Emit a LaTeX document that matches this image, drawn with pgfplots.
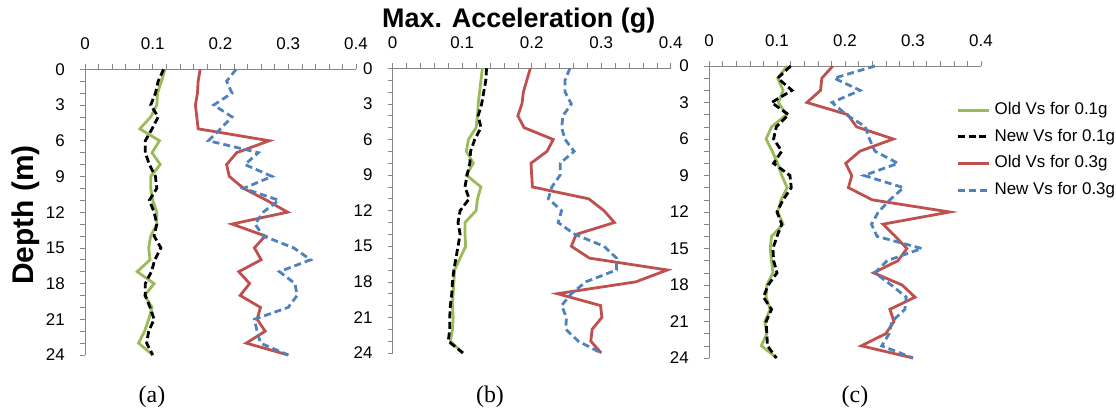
\documentclass[border=0pt]{standalone}
\usepackage{pgfplots}
\pgfplotsset{compat=1.18}
\usepackage{pgfplotstable}
\usepackage{fontspec}
\setmainfont{Liberation Sans}
\newfontfamily\serifcap{Liberation Serif}
\definecolor{cgreen}{HTML}{9BBB59}
\definecolor{cred}{HTML}{C0504D}
\definecolor{cblue}{HTML}{4F81BD}
\definecolor{axgray}{HTML}{868686}

\pgfplotstableread{
d o1 n1 o3 n3
0 0.118 0.116 0.170 0.223
1 0.113 0.108 0.167 0.209
2 0.107 0.104 0.166 0.217
3 0.106 0.097 0.163 0.190
4 0.097 0.108 0.165 0.217
5 0.081 0.099 0.167 0.200
6 0.110 0.089 0.272 0.182
7 0.099 0.089 0.224 0.256
8 0.111 0.095 0.209 0.236
9 0.097 0.104 0.213 0.276
10 0.097 0.106 0.234 0.234
11 0.100 0.095 0.268 0.286
12 0.106 0.102 0.299 0.263
13 0.106 0.106 0.217 0.251
14 0.097 0.102 0.266 0.263
15 0.094 0.112 0.250 0.308
16 0.096 0.103 0.260 0.333
17 0.077 0.098 0.227 0.287
18 0.102 0.089 0.243 0.310
19 0.088 0.089 0.229 0.313
20 0.099 0.096 0.259 0.300
21 0.094 0.102 0.254 0.250
22 0.088 0.094 0.266 0.254
23 0.079 0.091 0.238 0.259
24 0.100 0.100 0.300 0.300
}\tabA

\pgfplotstableread{
d o1 n1 o3 n3
0 0.129 0.135 0.198 0.255
1 0.127 0.134 0.193 0.248
2 0.125 0.131 0.188 0.248
3 0.123 0.128 0.186 0.257
4 0.122 0.123 0.180 0.245
5 0.120 0.127 0.189 0.243
6 0.109 0.118 0.231 0.248
7 0.106 0.112 0.222 0.261
8 0.116 0.111 0.199 0.241
9 0.106 0.107 0.200 0.241
10 0.127 0.104 0.201 0.229
11 0.122 0.110 0.282 0.224
12 0.120 0.097 0.304 0.243
13 0.104 0.094 0.319 0.238
14 0.104 0.097 0.264 0.262
15 0.105 0.094 0.257 0.304
16 0.097 0.091 0.283 0.322
17 0.089 0.088 0.395 0.322
18 0.088 0.086 0.350 0.278
19 0.087 0.085 0.237 0.257
20 0.086 0.083 0.299 0.243
21 0.087 0.082 0.301 0.250
22 0.086 0.082 0.287 0.249
23 0.083 0.080 0.285 0.267
24 0.101 0.101 0.300 0.300
}\tabB

\pgfplotstableread{
d o1 n1 o3 n3
0 0.115 0.120 0.182 0.244
1 0.101 0.101 0.166 0.184
2 0.109 0.122 0.164 0.222
3 0.102 0.092 0.144 0.181
4 0.114 0.117 0.204 0.202
5 0.092 0.099 0.217 0.230
6 0.084 0.095 0.271 0.236
7 0.093 0.107 0.222 0.244
8 0.101 0.095 0.201 0.278
9 0.107 0.119 0.210 0.228
10 0.115 0.121 0.205 0.286
11 0.106 0.109 0.240 0.266
12 0.101 0.100 0.354 0.249
13 0.109 0.107 0.256 0.239
14 0.092 0.100 0.274 0.247
15 0.090 0.094 0.291 0.313
16 0.092 0.095 0.278 0.262
17 0.094 0.100 0.242 0.244
18 0.085 0.087 0.284 0.268
19 0.084 0.080 0.303 0.290
20 0.090 0.092 0.266 0.288
21 0.082 0.084 0.272 0.269
22 0.085 0.085 0.260 0.265
23 0.077 0.086 0.224 0.254
24 0.100 0.099 0.300 0.300
}\tabC

\pgfplotsset{
  panel/.style={
    scale only axis,
    xmin=0, xmax=0.4, ymin=0, ymax=24, y dir=reverse,
    axis x line=top, axis y line=left,
    axis line style={-, draw=axgray, line width=0.8bp},
    xtick={0,0.1,0.2,0.3,0.4}, minor x tick num=4,
    ytick={0,3,...,24}, minor ytick={0,1,...,24},
    tick align=outside, major tick length=5bp, minor tick length=5bp,
    every tick/.style={draw=axgray, line width=0.6bp},
    every minor tick/.style={draw=axgray, line width=0.6bp},
    ticklabel style={font=\fontsize{17}{17}\selectfont, inner sep=0pt},
    /pgf/number format/assume math mode=true,
    /pgf/number format/fixed,
    xticklabel style={anchor=base, yshift=14.5bp},
    yticklabel style={anchor=east, xshift=-15bp},
    clip=false,
  },
  sO1/.style={cgreen, line width=2.8bp},
  sN1/.style={black, line width=2.8bp, dash pattern=on 7bp off 3.5bp},
  sO3/.style={cred, line width=2.8bp},
  sN3/.style={cblue, line width=2.8bp, dash pattern=on 7bp off 4bp},
}

\begin{document}
\begin{tikzpicture}
\useasboundingbox (0,0) rectangle (1116bp,-409bp);

\begin{axis}[panel, at={(85bp,-69.3bp)}, anchor=north west, width=271bp, height=285.7bp]
\addplot[sO1] table[x=o1, y=d] {\tabA};
\addplot[sN1] table[x=n1, y=d] {\tabA};
\addplot[sO3] table[x=o3, y=d] {\tabA};
\addplot[sN3] table[x=n3, y=d] {\tabA};
\end{axis}

\begin{axis}[panel, at={(392.7bp,-68.3bp)}, anchor=north west, width=278bp, height=284.7bp]
\addplot[sO1] table[x=o1, y=d] {\tabB};
\addplot[sN1] table[x=n1, y=d] {\tabB};
\addplot[sO3] table[x=o3, y=d] {\tabB};
\addplot[sN3] table[x=n3, y=d] {\tabB};
\end{axis}

\begin{axis}[panel, at={(709bp,-66bp)}, anchor=north west, width=272bp, height=292bp,
  legend style={at={(axis description cs:0.911,0.877)}, anchor=north west,
    draw=none, fill=none, inner sep=0pt, outer sep=0pt,
    font=\fontsize{17}{17}\selectfont, row sep=10.2bp,
    nodes={inner sep=0pt, text height=12.5bp, text depth=4bp}},
  legend cell align=left,
  legend image code/.code={\draw[#1] (0bp,0bp) -- (31bp,0bp);},
  legend style={/tikz/every even column/.append style={column sep=0bp}},
]
\addplot[sO1] table[x=o1, y=d] {\tabC};
\addlegendentry{\hspace{4bp}Old Vs for 0.1g}
\addplot[sN1] table[x=n1, y=d] {\tabC};
\addlegendentry{\hspace{4bp}New Vs for 0.1g}
\addplot[sO3] table[x=o3, y=d] {\tabC};
\addlegendentry{\hspace{4bp}Old Vs for 0.3g}
\addplot[sN3] table[x=n3, y=d] {\tabC};
\addlegendentry{\hspace{4bp}New Vs for 0.3g}
\end{axis}

\node[anchor=base west, font=\bfseries\fontsize{27}{27}\selectfont, inner sep=0pt] at (382bp,-27bp) {Max. Acceleration (g)};
\node[anchor=base, rotate=90, font=\bfseries\fontsize{30}{30}\selectfont, inner sep=0pt] at (33bp,-215bp) {Depth (m)};
\node[anchor=base, font=\serifcap\fontsize{24}{24}\selectfont, inner sep=0pt] at (152bp,-402bp) {(a)};
\node[anchor=base, font=\serifcap\fontsize{24}{24}\selectfont, inner sep=0pt] at (490bp,-402bp) {(b)};
\node[anchor=base, font=\serifcap\fontsize{24}{24}\selectfont, inner sep=0pt] at (855bp,-402bp) {(c)};
\end{tikzpicture}
\end{document}
